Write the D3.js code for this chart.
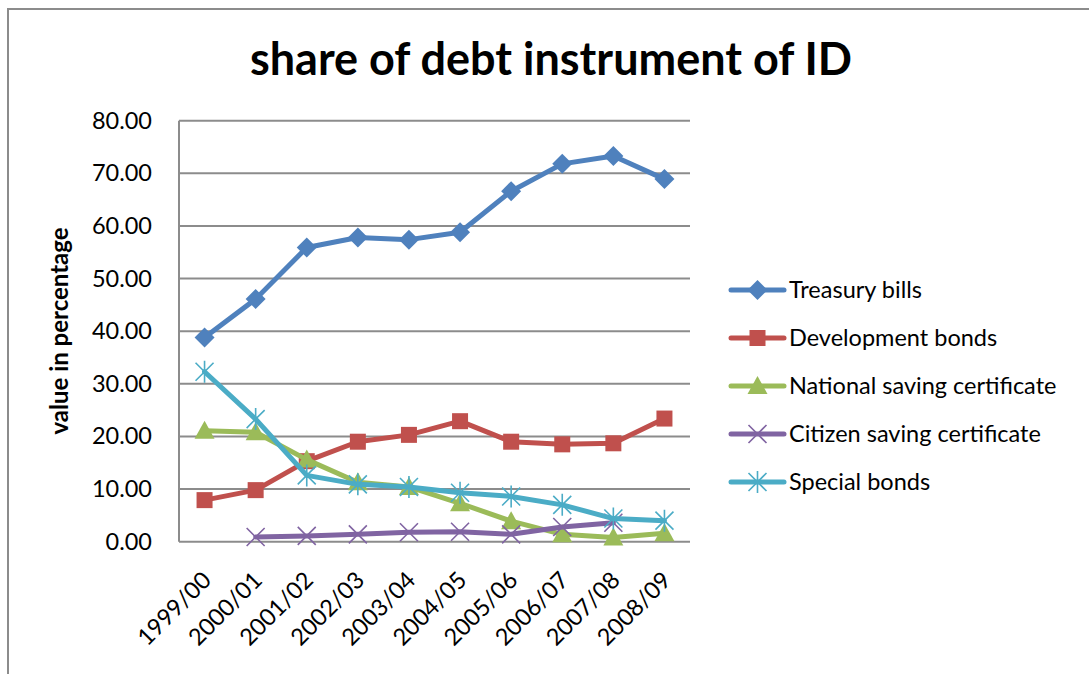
<!DOCTYPE html>
<html>
<head>
<meta charset="utf-8">
<script src="https://cdn.jsdelivr.net/npm/d3@7"></script>
<style>
  html, body { margin: 0; padding: 0; background: #fff; }
  svg { display: block; font-family: Lato, "Open Sans", sans-serif; }
</style>
</head>
<body>
<svg id="chart" width="1089" height="674"></svg>
<script>
// Fiscal years on the category axis
const years = ["1999/00", "2000/01", "2001/02", "2002/03", "2003/04",
               "2004/05", "2005/06", "2006/07", "2007/08", "2008/09"];

// Share of each debt instrument (%)
const treasuryBills   = [38.8, 46.1, 55.9, 57.8, 57.4, 58.8, 66.6, 71.8, 73.3, 68.9];
const developmentBonds = [7.9, 9.8, 15.3, 19.0, 20.3, 22.9, 19.0, 18.5, 18.7, 23.4];
const nationalSaving  = [21.1, 20.8, 15.6, 11.3, 10.4, 7.3, 3.9, 1.4, 0.8, 1.6];
const citizenSaving   = [null, 0.9, 1.1, 1.4, 1.8, 1.9, 1.4, 2.8, 3.6, null];
const specialBonds    = [32.3, 23.3, 12.6, 10.9, 10.4, 9.3, 8.6, 7.0, 4.4, 4.0];

const yTicks = [0, 10, 20, 30, 40, 50, 60, 70, 80];

const series = [
  { name: "Treasury bills", values: treasuryBills, color: "#4F81BD", marker: "diamond" },
  { name: "Development bonds", values: developmentBonds, color: "#C0504D", marker: "square" },
  { name: "National saving certificate", values: nationalSaving, color: "#9BBB59", marker: "triangle" },
  { name: "Citizen saving certificate", values: citizenSaving, color: "#8064A2", marker: "x" },
  { name: "Special bonds", values: specialBonds, color: "#4BACC6", marker: "star" }
];

const svg = d3.select("#chart");

// outer chart frame
svg.append("path")
  .attr("d", "M8,680 L8,9 L1095,9")
  .attr("fill", "none")
  .attr("stroke", "#8c8c8c")
  .attr("stroke-width", 2);

const plot = { left: 179, right: 690, top: 120.7, bottom: 541.7 };

const x = d3.scaleBand().domain(years).range([plot.left, plot.right]);
const y = d3.scaleLinear().domain([0, 80]).range([plot.bottom, plot.top]);
const cx = d => x(d) + x.bandwidth() / 2;

// horizontal gridlines
svg.append("g")
  .selectAll("line")
  .data(yTicks.filter(t => t > 0))
  .join("line")
  .attr("x1", plot.left).attr("x2", plot.right)
  .attr("y1", d => y(d)).attr("y2", d => y(d))
  .attr("stroke", "#8c8c8c").attr("stroke-width", 2);

// y axis (labels only, line drawn below)
const yAxis = svg.append("g")
  .attr("transform", `translate(${plot.left},0)`)
  .call(d3.axisLeft(y).tickValues(yTicks).tickSize(0).tickPadding(27).tickFormat(d3.format(".2f")));
yAxis.select(".domain").remove();
yAxis.selectAll("text")
  .attr("font-size", 23.5).attr("fill", "#000")
  .attr("font-family", "Lato, sans-serif");

// x axis labels, rotated
const xAxis = svg.append("g")
  .attr("transform", `translate(0,${plot.bottom})`)
  .call(d3.axisBottom(x).tickSize(0).tickPadding(0));
xAxis.select(".domain").remove();
xAxis.selectAll("text")
  .attr("font-size", 23.5).attr("fill", "#000")
  .attr("font-family", "Lato, sans-serif")
  .attr("text-anchor", "end")
  .attr("dy", null).attr("y", 0)
  .attr("transform", "translate(8,40) rotate(-45)");

// axis lines
svg.append("line")
  .attr("x1", plot.left).attr("x2", plot.left)
  .attr("y1", plot.top).attr("y2", plot.bottom)
  .attr("stroke", "#8c8c8c").attr("stroke-width", 2);
svg.append("line")
  .attr("x1", plot.left).attr("x2", plot.right)
  .attr("y1", plot.bottom).attr("y2", plot.bottom)
  .attr("stroke", "#8c8c8c").attr("stroke-width", 2);

// marker shapes
function drawMarker(g, type, color, px, py) {
  if (type === "diamond") {
    g.append("path").attr("d", `M${px},${py - 10} L${px + 10},${py} L${px},${py + 10} L${px - 10},${py} Z`)
      .attr("fill", color);
  } else if (type === "square") {
    g.append("rect").attr("x", px - 8).attr("y", py - 8).attr("width", 16).attr("height", 16)
      .attr("fill", color);
  } else if (type === "triangle") {
    g.append("path").attr("d", `M${px},${py - 10} L${px + 10},${py + 8} L${px - 10},${py + 8} Z`)
      .attr("fill", color);
  } else if (type === "x") {
    g.append("path").attr("d", `M${px - 9},${py - 9} L${px + 9},${py + 9} M${px - 9},${py + 9} L${px + 9},${py - 9}`)
      .attr("stroke", color).attr("stroke-width", 1.6).attr("fill", "none");
  } else if (type === "star") {
    g.append("path").attr("d", `M${px - 9},${py - 9} L${px + 9},${py + 9} M${px - 9},${py + 9} L${px + 9},${py - 9} M${px},${py - 11} L${px},${py + 11}`)
      .attr("stroke", color).attr("stroke-width", 1.6).attr("fill", "none");
  }
}

const line = d3.line()
  .defined(d => d.v !== null)
  .x(d => cx(d.year))
  .y(d => y(d.v));

// series lines and markers
series.forEach(s => {
  const pts = years.map((yr, i) => ({ year: yr, v: s.values[i] }));
  const g = svg.append("g");
  g.append("path")
    .datum(pts)
    .attr("d", line)
    .attr("fill", "none")
    .attr("stroke", s.color)
    .attr("stroke-width", 5)
    .attr("stroke-linejoin", "round")
    .attr("stroke-linecap", "round");
  pts.filter(p => p.v !== null).forEach(p => drawMarker(g, s.marker, s.color, cx(p.year), y(p.v)));
});

// legend
const legend = svg.append("g");
series.forEach((s, i) => {
  const ly = 290 + i * 48;
  const g = legend.append("g");
  g.append("line")
    .attr("x1", 731).attr("x2", 784).attr("y1", ly).attr("y2", ly)
    .attr("stroke", s.color).attr("stroke-width", 5).attr("stroke-linecap", "round");
  drawMarker(g, s.marker, s.color, 757.5, ly);
  g.append("text")
    .attr("x", 789).attr("y", ly + 8)
    .attr("font-size", 23.5).attr("fill", "#000")
    .text(s.name);
});

// title
svg.append("text")
  .attr("x", 551).attr("y", 75)
  .attr("text-anchor", "middle")
  .attr("font-size", 45).attr("font-weight", "bold").attr("fill", "#000")
  .text("share of debt instrument of ID");

// y axis title
svg.append("text")
  .attr("transform", `translate(68,331) rotate(-90)`)
  .attr("text-anchor", "middle")
  .attr("font-size", 24).attr("font-weight", "bold").attr("fill", "#000")
  .text("value in percentage");
</script>
</body>
</html>
